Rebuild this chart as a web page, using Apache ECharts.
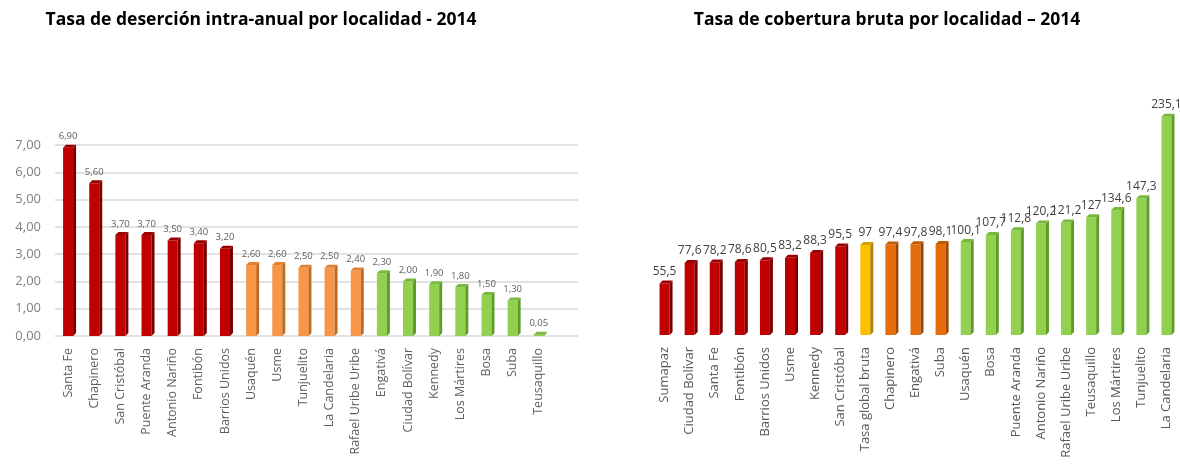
<!DOCTYPE html>
<html><head><meta charset="utf-8">
<script src="https://cdn.jsdelivr.net/npm/echarts@6/dist/echarts.min.js"></script>
<style>html,body{margin:0;padding:0;background:#fff}#c{width:1180px;height:466px}</style>
</head><body><div id="c"></div>
<script>
// Left chart: Tasa de deserción intra-anual por localidad - 2014
const leftCategories = ['Santa Fe','Chapinero','San Cristóbal','Puente Aranda','Antonio Nariño','Fontibón','Barrios Unidos','Usaquén','Usme','Tunjuelito','La Candelaria','Rafael Uribe Uribe','Engativá','Ciudad Bolívar','Kennedy','Los Mártires','Bosa','Suba','Teusaquillo'];
const leftValues = [6.90,5.60,3.70,3.70,3.50,3.40,3.20,2.60,2.60,2.50,2.50,2.40,2.30,2.00,1.90,1.80,1.50,1.30,0.05];
const leftGroups = ['alta','alta','alta','alta','alta','alta','alta','media','media','media','media','media','baja','baja','baja','baja','baja','baja','baja'];
const leftTicks = [0,1,2,3,4,5,6,7];

// Right chart: Tasa de cobertura bruta por localidad – 2014
const rightCategories = ['Sumapaz','Ciudad Bolívar','Santa Fe','Fontibón','Barrios Unidos','Usme','Kennedy','San Cristóbal','Tasa global bruta','Chapinero','Engativá','Suba','Usaquén','Bosa','Puente Aranda','Antonio Nariño','Rafael Uribe Uribe','Teusaquillo','Los Mártires','Tunjuelito','La Candelaria'];
const rightValues = [55.5,77.6,78.2,78.6,80.5,83.2,88.3,95.5,97,97.4,97.8,98.1,100.1,107.7,112.8,120.2,121.2,127,134.6,147.3,235.1];
const rightGroups = ['baja','baja','baja','baja','baja','baja','baja','baja','total','media','media','media','alta','alta','alta','alta','alta','alta','alta','alta','alta'];

const leftPalette = {alta:['#c00000','#7a0000','#9a0000'], media:['#f79646','#c06a20','#e08030'], baja:['#92d050','#5f9a2a','#78b83a']};
const rightPalette = {baja:['#c00000','#7a0000','#9a0000'], total:['#ffc000','#b08400','#d8a000'], media:['#e46c0a','#9c4700','#c05a05'], alta:['#92d050','#5f9a2a','#78b83a']};

function sideRender(palette, groups, fw, dep){
  return function(params, api){
    const i = api.value(0), v = api.value(1);
    const top = api.coord([i, v]);
    const base = api.coord([i, 0]);
    const cx = top[0], h = fw/2;
    const c = palette[groups[params.dataIndex]];
    return {type:'group', children:[
      {type:'polygon', shape:{points:[[cx+h,top[1]],[cx+h+dep,top[1]-dep],[cx+h+dep,base[1]-dep],[cx+h,base[1]]]}, style:{fill:c[1]}},
      {type:'polygon', shape:{points:[[cx-h,top[1]],[cx-h+dep,top[1]-dep],[cx+h+dep,top[1]-dep],[cx+h,top[1]]]}, style:{fill:c[2]}}
    ]};
  };
}

const chart = echarts.init(document.getElementById('c'), null, {renderer:'canvas'});
const font = '"Open Sans", sans-serif';
chart.setOption({
  animation:false,
  title:[
    {text:'Tasa de deserción intra-anual por localidad - 2014', left:256, top:6, textAlign:'center', textStyle:{fontFamily:font, fontWeight:'bold', fontSize:17.5, color:'#000'}},
    {text:'Tasa de cobertura bruta por localidad – 2014', left:882, top:6, textAlign:'center', textStyle:{fontFamily:font, fontWeight:'bold', fontSize:17.5, color:'#000'}}
  ],
  grid:[
    {left:55, width:523, top:145, bottom:130},
    {left:652, width:527, top:103, bottom:131}
  ],
  xAxis:[
    {type:'category', gridIndex:0, data:leftCategories, max:19, axisLine:{show:false}, axisTick:{show:false},
     axisLabel:{rotate:90, interval:0, fontFamily:font, fontSize:12.5, color:'#606060', margin:12}},
    {type:'category', gridIndex:1, data:rightCategories, axisLine:{show:false}, axisTick:{show:false},
     axisLabel:{rotate:90, interval:0, fontFamily:font, fontSize:13, color:'#595959', margin:12}}
  ],
  yAxis:[
    {type:'value', gridIndex:0, min:leftTicks[0], max:leftTicks[leftTicks.length-1], interval:1,
     axisLine:{show:false}, axisTick:{show:false},
     splitLine:{lineStyle:{color:'#d9d9d9', width:1.5}},
     axisLabel:{fontFamily:font, fontSize:13, color:'#808080', margin:14, formatter:v=>v.toFixed(2).replace('.',',')}},
    {type:'value', gridIndex:1, min:0, max:250, show:false, splitLine:{show:false}}
  ],
  series:[
    {type:'bar', xAxisIndex:0, yAxisIndex:0, barWidth:10,
     data:leftValues.map((v,i)=>({value:v, itemStyle:{color:leftPalette[leftGroups[i]][0]}})),
     label:{show:true, position:'top', distance:6, fontFamily:font, fontSize:9.5, color:'#606060', formatter:p=>p.value.toFixed(2).replace('.',',')}},
    {type:'custom', xAxisIndex:0, yAxisIndex:0, renderItem:sideRender(leftPalette, leftGroups, 10, 3),
     data:leftValues.map((v,i)=>[i,v]), z:3},
    {type:'bar', xAxisIndex:1, yAxisIndex:1, barWidth:10,
     data:rightValues.map((v,i)=>({value:v, itemStyle:{color:rightPalette[rightGroups[i]][0]}})),
     label:{show:true, position:'top', distance:6, fontFamily:font, fontSize:12, color:'#404040', formatter:p=>String(p.value).replace('.',',')}},
    {type:'custom', xAxisIndex:1, yAxisIndex:1, renderItem:sideRender(rightPalette, rightGroups, 10, 3),
     data:rightValues.map((v,i)=>[i,v]), z:3}
  ]
});
</script></body></html>
